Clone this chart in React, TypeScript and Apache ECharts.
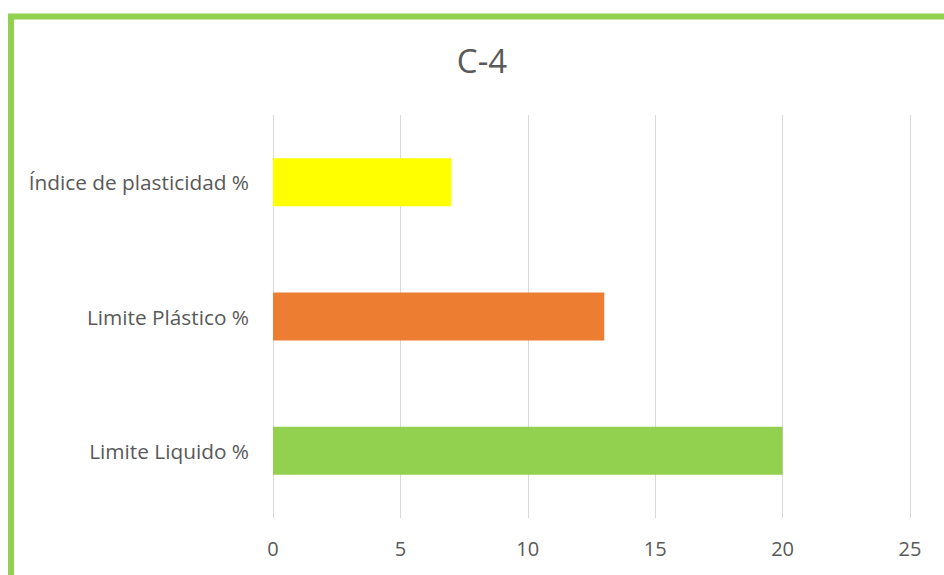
import React, { useEffect, useRef } from "react";
import * as echarts from "echarts";

const categories = ["Limite Liquido %", "Limite Plástico %", "Índice de plasticidad %"];
const values = [20, 13, 7];
const barColors = ["#92D050", "#ED7D31", "#FFFF00"];
const xTicks = { min: 0, max: 25, interval: 5 };
const titleText = "C-4";

export default function App() {
  const ref = useRef<HTMLDivElement>(null);
  useEffect(() => {
    if (!ref.current) return;
    const chart = echarts.init(ref.current, undefined, { renderer: "svg" });
    const font = "'Open Sans', sans-serif";
    chart.setOption({
      animation: false,
      backgroundColor: "#ffffff",
      title: {
        text: titleText,
        left: 477,
        top: 39,
        textAlign: "center",
        textStyle: { fontFamily: font, fontSize: 33, fontWeight: "normal", color: "#595959" },
      },
      grid: { left: 273, right: 34, top: 115, bottom: 57 },
      xAxis: {
        type: "value",
        min: xTicks.min,
        max: xTicks.max,
        interval: xTicks.interval,
        axisLine: { show: false },
        axisTick: { show: false },
        axisLabel: { fontFamily: font, fontSize: 20, color: "#595959", margin: 20 },
        splitLine: { show: true, lineStyle: { color: "#D9D9D9", width: 1 } },
      },
      yAxis: {
        type: "category",
        data: categories,
        axisLine: { show: false },
        axisTick: { show: false },
        axisLabel: { fontFamily: font, fontSize: 20.8, color: "#595959", margin: 24 },
      },
      series: [
        {
          type: "bar",
          data: values.map((v, i) => ({ value: v, itemStyle: { color: barColors[i] } })),
          barWidth: 48,
        },
      ],
      graphic: [
        {
          type: "rect",
          shape: { x: 11, y: 16.5, width: 2000, height: 2000 },
          style: { fill: "none", stroke: "#92D050", lineWidth: 6 },
          silent: true,
        },
      ],
    });
    return () => chart.dispose();
  }, []);
  return <div ref={ref} style={{ position: "fixed", left: 0, top: 0, width: 944, height: 575 }} />;
}
